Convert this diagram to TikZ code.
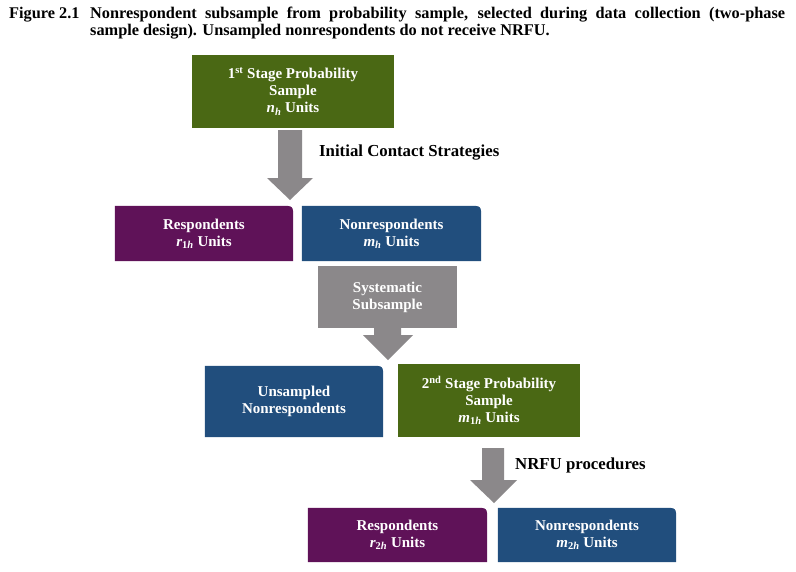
\documentclass[tikz,border=0pt]{standalone}
\usepackage{fontspec}
\setmainfont{Liberation Serif}
\usetikzlibrary{backgrounds}
\definecolor{boxgreen}{RGB}{74,104,20}
\definecolor{boxpurple}{RGB}{95,18,88}
\definecolor{boxblue}{RGB}{33,78,125}
\definecolor{arrowgray}{RGB}{139,136,138}
\newcommand{\TRfill}[2]{\fill[#2] (#1.south west) -- (#1.north west) -- ([xshift=-12pt]#1.north east) .. controls (#1.north east) .. ([yshift=-12pt]#1.north east) -- (#1.south east) -- cycle;}
\begin{document}
\begin{tikzpicture}[x=1pt,y=-1pt,
  box/.style={inner sep=0pt, text=white, align=center,
    font=\fontsize{15}{17}\selectfont\bfseries},
  ttl/.style={inner sep=0pt, anchor=base west, font=\fontsize{16.3}{17}\selectfont\bfseries},
  lbl/.style={inner sep=0pt, anchor=base west, font=\fontsize{16.8}{18}\selectfont\bfseries},
  blockarrow/.style={fill=arrowgray}]
\useasboundingbox (0,0) rectangle (796,571);

% title
\node[ttl] (fig) at (9,18) {Figure 2.1};
\node[ttl] (t1) at (90,18) {\makebox[695pt][s]{Nonrespondent subsample from probability sample, selected during data collection (two-phase}};
\node[ttl] (t2) at (90,35) {sample design). Unsampled nonrespondents do not receive NRFU.};

% boxes
\node[box, fill=boxgreen, minimum width=202pt, minimum height=73pt] (s1) at (293,91.5)
  {1\textsuperscript{st} Stage Probability\\Sample\\\textit{n}\textsubscript{\textit{h}} Units};
\node[box, minimum width=178pt, minimum height=55pt] (r1) at (204,233.5)
  {Respondents\\\textit{r}\textsubscript{1\textit{h}} Units};
\node[box, minimum width=179pt, minimum height=55pt] (n1) at (391.5,233.5)
  {Nonrespondents\\\textit{m}\textsubscript{\textit{h}} Units};
\node[box, fill=arrowgray, minimum width=139pt, minimum height=62pt] (sub) at (387.5,297)
  {Systematic\\Subsample};
\node[box, minimum width=178pt, minimum height=71pt] (u) at (294,401.5)
  {Unsampled\\Nonrespondents};
\node[box, fill=boxgreen, minimum width=182pt, minimum height=73pt] (s2) at (489,400.5)
  {2\textsuperscript{nd} Stage Probability\\Sample\\\textit{m}\textsubscript{1\textit{h}} Units};
\node[box, minimum width=179pt, minimum height=54pt] (r2) at (397.5,535)
  {Respondents\\\textit{r}\textsubscript{2\textit{h}} Units};
\node[box, minimum width=178pt, minimum height=54pt] (n2) at (587,535)
  {Nonrespondents\\\textit{m}\textsubscript{2\textit{h}} Units};

\begin{pgfonlayer}{background}
\TRfill{r1}{boxpurple}
\TRfill{n1}{boxblue}
\TRfill{u}{boxblue}
\TRfill{r2}{boxpurple}
\TRfill{n2}{boxblue}
\end{pgfonlayer}

% block arrows
\coordinate (a1top) at (290,130);
\coordinate (a1tip) at (290,200);
\fill[blockarrow] ([xshift=-12pt]a1top) -- ([xshift=12pt]a1top) -- (302,178) -- (313,178) -- (a1tip) -- (267,178) -- (278,178) -- cycle;

\coordinate (a2tip) at (388,360);
\fill[blockarrow] (374,327) -- (401,327) -- (401,335) -- (413,335) -- (a2tip) -- (363,335) -- (374,335) -- cycle;

\coordinate (a3tip) at (494,503);
\fill[blockarrow] (482,448) -- (504,448) -- (504,480) -- (517,480) -- (a3tip) -- (470,480) -- (482,480) -- cycle;

% labels
\node[lbl] (l1) at (319,156) {Initial Contact Strategies};
\node[lbl] (l2) at (515,469) {NRFU procedures};
\end{tikzpicture}
\end{document}
